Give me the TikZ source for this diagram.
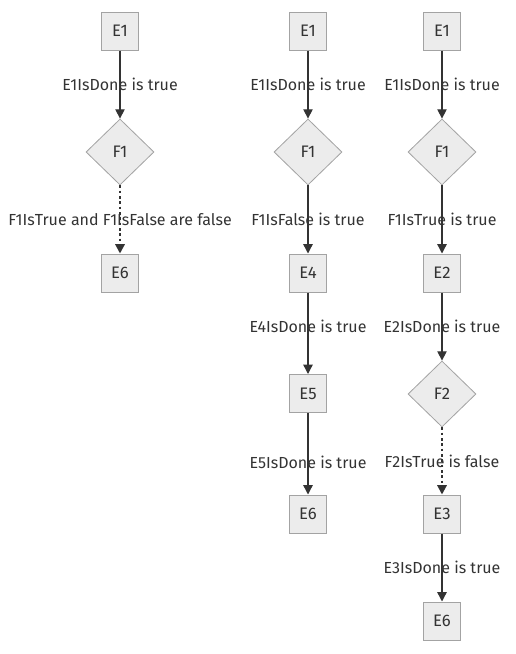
\documentclass[tikz,border=0pt]{standalone}
\usepackage{fontspec}
\setmainfont{Fira Sans}
\usetikzlibrary{shapes.geometric,arrows.meta}
\definecolor{boxfill}{HTML}{ECECEC}
\definecolor{boxline}{HTML}{A3A3A3}
\definecolor{ink}{HTML}{333333}
\tikzset{
  stepbox/.style={draw=boxline, fill=boxfill, line width=0.75pt, minimum width=27.75pt, minimum height=28.5pt, inner sep=0pt, text=ink, font=\fontsize{12.5pt}{14pt}\selectfont},
  choice/.style={diamond, draw=boxline, fill=boxfill, line width=0.6pt, minimum width=51pt, minimum height=49.5pt, inner sep=0pt, text=ink, font=\fontsize{12.5pt}{14pt}\selectfont},
  flow/.style={draw=ink, line width=1pt, -{Triangle[length=7pt,width=7pt]}},
  dotflow/.style={flow, line width=1.5pt, dash pattern=on 2pt off 2pt},
  lab/.style={midway, text=ink, font=\fontsize{12pt}{14pt}\selectfont, inner sep=0pt}
}
\begin{document}
\begin{tikzpicture}[x=0.75pt,y=-0.75pt]
\useasboundingbox (0,0) rectangle (515,654);
% column 1
\node[stepbox] (a1) at (120,31) {E1};
\node[choice] (a2) at (120,152) {F1};
\node[stepbox] (a3) at (120,273) {E6};
\draw[flow] (a1) -- (a2) node[lab] {E1IsDone is true};
\draw[dotflow] (a2) -- (a3) node[lab] {F1IsTrue and F1IsFalse are false};
% column 2
\node[stepbox] (b1) at (308,31) {E1};
\node[choice] (b2) at (308,152) {F1};
\node[stepbox] (b3) at (308,273) {E4};
\node[stepbox] (b4) at (308,393.5) {E5};
\node[stepbox] (b5) at (308,514) {E6};
\draw[flow] (b1) -- (b2) node[lab] {E1IsDone is true};
\draw[flow] (b2) -- (b3) node[lab] {F1IsFalse is true};
\draw[flow] (b3) -- (b4) node[lab, pos=0.42] {E4IsDone is true};
\draw[flow] (b4) -- (b5) node[lab, pos=0.6] {E5IsDone is true};
% column 3
\node[stepbox] (c1) at (442,31) {E1};
\node[choice] (c2) at (442,152) {F1};
\node[stepbox] (c3) at (442,273) {E2};
\node[choice] (c4) at (442,394) {F2};
\node[stepbox] (c5) at (442,514) {E3};
\node[stepbox] (c6) at (442,621) {E6};
\draw[flow] (c1) -- (c2) node[lab] {E1IsDone is true};
\draw[flow] (c2) -- (c3) node[lab] {F1IsTrue is true};
\draw[flow] (c3) -- (c4) node[lab] {E2IsDone is true};
\draw[dotflow] (c4) -- (c5) node[lab] {F2IsTrue is false};
\draw[flow] (c5) -- (c6) node[lab] {E3IsDone is true};
\end{tikzpicture}
\end{document}
